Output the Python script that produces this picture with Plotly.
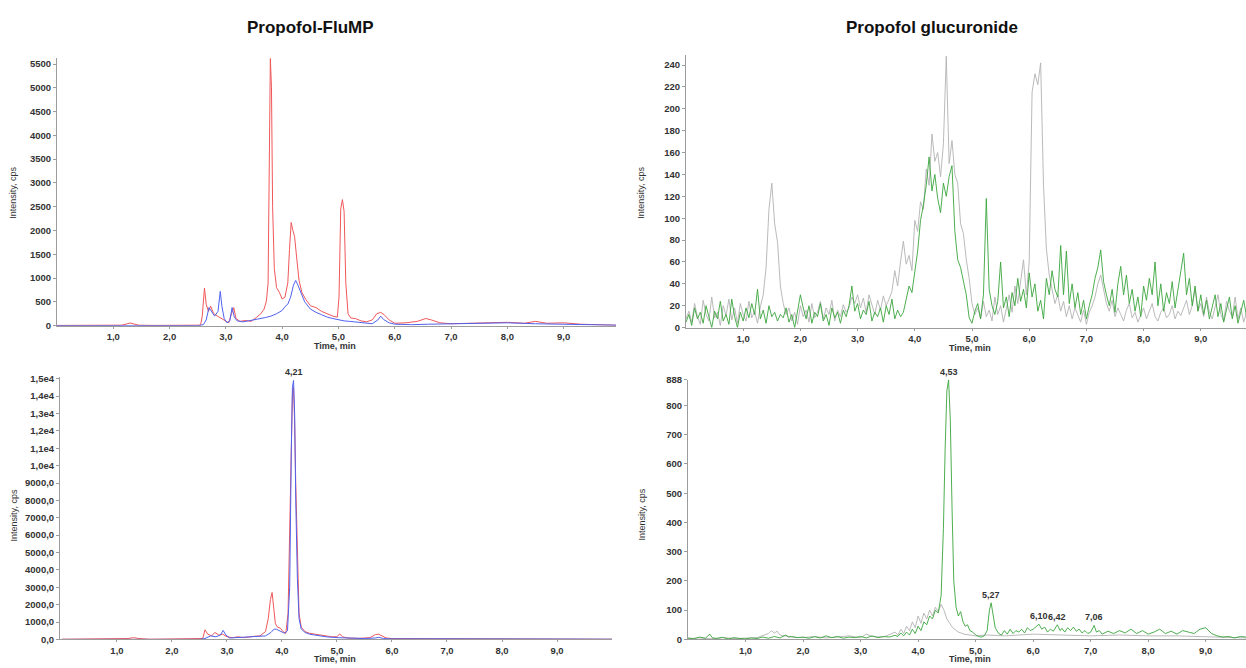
import plotly.graph_objects as go

W, H = 1246, 668

# ---------------- Panel A: Propofol-FluMP (top) ----------------
A_red_t = [0.0, 0.3, 0.6, 0.9, 1.15, 1.25, 1.3, 1.35, 1.45, 1.7, 2.0, 2.3, 2.55, 2.58, 2.62, 2.65, 2.69, 2.73,
           2.78, 2.85, 2.92, 3.0, 3.05, 3.1, 3.14, 3.18, 3.25, 3.35, 3.45, 3.55, 3.62, 3.68, 3.72, 3.75, 3.77,
           3.79, 3.81, 3.83, 3.86, 3.9, 3.95, 4.0, 4.05, 4.1, 4.13, 4.16, 4.19, 4.22, 4.26, 4.3, 4.35, 4.42,
           4.5, 4.6, 4.7, 4.8, 4.9, 4.98, 5.01, 5.04, 5.07, 5.1, 5.13, 5.17, 5.22, 5.3, 5.4, 5.5, 5.6, 5.68,
           5.75, 5.82, 5.9, 6.0, 6.2, 6.4, 6.55, 6.65, 6.8, 7.0, 7.3, 7.6, 8.0, 8.3, 8.5, 8.7, 9.0, 9.3, 9.6, 9.93]
A_red_y = [5, 10, 5, 8, 10, 40, 55, 40, 10, 5, 8, 5, 10, 200, 790, 450, 300, 410,
           260, 200, 150, 80, 60, 250, 380, 150, 90, 110, 90, 180, 250, 350, 520, 900, 3500,
           5620, 5000, 2500, 1200, 800, 700, 560, 600, 900, 1600, 2170, 2000, 1880, 1400, 950, 700, 550,
           420, 380, 300, 250, 200, 180, 600, 2450, 2650, 2400, 900, 250, 160, 150, 100, 80, 120, 250,
           280, 220, 120, 50, 60, 90, 150, 120, 60, 40, 50, 60, 70, 50, 90, 50, 60, 30, 15, 10]

A_blue_t = [0.0, 0.5, 1.0, 1.5, 2.0, 2.5, 2.6, 2.65, 2.7, 2.74, 2.8, 2.86, 2.9, 2.93, 2.97, 3.02, 3.07, 3.11,
            3.15, 3.2, 3.3, 3.4, 3.5, 3.6, 3.7, 3.8, 3.9, 4.0, 4.05, 4.1, 4.15, 4.2, 4.24, 4.28, 4.33, 4.4,
            4.5, 4.6, 4.7, 4.8, 4.9, 5.0, 5.1, 5.2, 5.3, 5.4, 5.5, 5.6, 5.7, 5.75, 5.8, 5.9, 6.0, 6.3, 6.6,
            7.0, 7.5, 8.0, 8.5, 9.0, 9.5, 9.93]
A_blue_y = [0, 0, 5, 0, 0, 0, 20, 120, 380, 300, 200, 300, 720, 400, 150, 60, 100, 380,
            180, 100, 80, 100, 120, 140, 170, 200, 250, 320, 400, 450, 600, 850, 950, 850, 700, 500,
            350, 280, 230, 180, 150, 120, 100, 90, 80, 60, 50, 40, 120, 200, 130, 60, 30, 20, 30,
            40, 50, 60, 40, 30, 20, 10]

# ---------------- Panel B: Propofol glucuronide (top) ----------------
B_t = [0.00, 0.05, 0.10, 0.15, 0.20, 0.25, 0.30, 0.35, 0.40, 0.45, 0.50, 0.55, 0.60, 0.65, 0.70, 0.75, 0.80, 0.85, 0.90, 0.95,
       1.00, 1.05, 1.10, 1.15, 1.20, 1.25, 1.30, 1.35, 1.40, 1.45, 1.50, 1.55, 1.60, 1.65, 1.70, 1.75, 1.80, 1.85, 1.90, 1.95,
       2.00, 2.05, 2.10, 2.15, 2.20, 2.25, 2.30, 2.35, 2.40, 2.45, 2.50, 2.55, 2.60, 2.65, 2.70, 2.75, 2.80, 2.85, 2.90, 2.95,
       3.00, 3.05, 3.10, 3.15, 3.20, 3.25, 3.30, 3.35, 3.40, 3.45, 3.50, 3.55, 3.60, 3.65, 3.70, 3.75, 3.80, 3.85, 3.90, 3.95,
       4.00, 4.05, 4.10, 4.15, 4.20, 4.25, 4.30, 4.35, 4.40, 4.45, 4.50, 4.55, 4.60, 4.65, 4.70, 4.75, 4.80, 4.85, 4.90, 4.95,
       5.00, 5.05, 5.10, 5.15, 5.20, 5.25, 5.30, 5.35, 5.40, 5.45, 5.50, 5.55, 5.60, 5.65, 5.70, 5.75, 5.80, 5.85, 5.90, 5.95,
       6.00, 6.05, 6.10, 6.15, 6.20, 6.25, 6.30, 6.35, 6.40, 6.45, 6.50, 6.55, 6.60, 6.65, 6.70, 6.75, 6.80, 6.85, 6.90, 6.95,
       7.00, 7.05, 7.10, 7.15, 7.20, 7.25, 7.30, 7.35, 7.40, 7.45, 7.50, 7.55, 7.60, 7.65, 7.70, 7.75, 7.80, 7.85, 7.90, 7.95,
       8.00, 8.05, 8.10, 8.15, 8.20, 8.25, 8.30, 8.35, 8.40, 8.45, 8.50, 8.55, 8.60, 8.65, 8.70, 8.75, 8.80, 8.85, 8.90, 8.95,
       9.00, 9.05, 9.10, 9.15, 9.20, 9.25, 9.30, 9.35, 9.40, 9.45, 9.50, 9.55, 9.60, 9.65, 9.70, 9.75, 9.80]
B_gray_y = [8, 15, 5, 22, 10, 3, 25, 12, 6, 28, 9, 14, 2, 20, 11, 26, 7, 18, 4, 22,
            12, 6, 24, 9, 15, 4, 19, 30, 55, 108, 132, 95, 78, 38, 22, 12, 18, 6, 14, 3,
            20, 10, 16, 5, 22, 9, 14, 24, 8, 18, 12, 25, 6, 16, 10, 21, 14, 18, 28, 22,
            30, 18, 27, 14, 30, 22, 12, 25, 16, 29, 20, 26, 33, 52, 38, 60, 79, 58, 66, 52,
            98, 88, 115, 108, 145, 130, 177, 152, 160, 138, 168, 248, 150, 171, 140, 132, 95, 86, 62, 45,
            22, 12, 18, 8, 24, 10, 16, 6, 28, 12, 20, 5, 18, 30, 14, 38, 22, 45, 62, 30,
            60, 215, 232, 222, 242, 130, 72, 48, 35, 22, 30, 15, 24, 10, 20, 8, 18, 12, 5, 16,
            3, 14, 20, 28, 40, 48, 35, 22, 15, 25, 10, 18, 12, 6, 16, 22, 9, 14, 5, 12,
            18, 8, 15, 22, 10, 6, 14, 18, 9, 12, 20, 8, 15, 11, 18, 25, 12, 20, 35, 15,
            22, 10, 28, 14, 8, 20, 30, 12, 6, 24, 15, 10, 28, 8, 18, 5, 14]
B_green_y = [5, 12, 2, 18, 8, 14, 4, 20, 10, 0, 15, 8, 24, 6, 12, 3, 26, 10, 0, 14,
             6, 18, 9, 22, 12, 35, 8, 16, 4, 20, 10, 14, 6, 12, 9, 18, 5, 12, 0, 15,
             30, 18, 8, 20, 4, 14, 10, 22, 6, 12, 2, 18, 9, 14, 4, 16, 10, 20, 38, 15,
             22, 8, 16, 12, 24, 6, 14, 10, 18, 5, 20, 12, 26, 8, 16, 10, 14, 26, 38, 32,
             52, 70, 98, 112, 130, 156, 125, 140, 118, 105, 132, 120, 138, 148, 88, 62, 55, 42, 30, 9,
             4, 15, 22, 8, 30, 118, 35, 20, 12, 24, 60, 18, 28, 10, 32, 20, 45, 24, 35, 18,
             50, 28, 40, 15, 25, 8, 45, 30, 52, 35, 28, 75, 30, 70, 22, 40, 18, 32, 12, 25,
             8, 20, 30, 45, 55, 71, 42, 30, 20, 35, 14, 40, 56, 30, 48, 22, 35, 15, 28, 10,
             38, 25, 45, 30, 60, 20, 40, 15, 32, 22, 42, 18, 35, 50, 68, 30, 45, 20, 38, 15,
             30, 12, 25, 8, 20, 30, 10, 22, 5, 18, 28, 8, 20, 4, 16, 25, 10]

# ---------------- Panel C: Propofol-FluMP (bottom) ----------------
C_red_t = [0.0, 0.5, 1.0, 1.2, 1.3, 1.4, 1.6, 2.0, 2.5, 2.56, 2.6, 2.65, 2.72, 2.78, 2.85, 2.92, 3.0, 3.1,
           3.2, 3.3, 3.5, 3.6, 3.7, 3.75, 3.79, 3.82, 3.85, 3.88, 3.92, 3.97, 4.02, 4.07, 4.11, 4.14, 4.17,
           4.19, 4.21, 4.23, 4.25, 4.28, 4.31, 4.35, 4.42, 4.5, 4.6, 4.7, 4.8, 4.9, 5.0, 5.05, 5.1, 5.2, 5.4,
           5.6, 5.7, 5.75, 5.82, 5.9, 6.0, 6.5, 7.0, 7.5, 8.0, 8.5, 9.0, 9.5, 10.0]
C_red_y = [10, 10, 20, 50, 100, 50, 10, 10, 10, 50, 550, 300, 200, 400, 250, 300, 150, 100,
           150, 100, 180, 200, 450, 1200, 2300, 2700, 1800, 900, 700, 650, 450, 350, 1500, 6000, 12500,
           14200, 14500, 12500, 9000, 4500, 1500, 700, 450, 350, 300, 250, 200, 150, 150, 320, 150, 80, 60,
           100, 280, 300, 200, 80, 50, 40, 30, 30, 50, 30, 20, 10, 10]
C_blue_t = [0.0, 1.0, 2.0, 2.5, 2.6, 2.7, 2.8, 2.88, 2.93, 2.98, 3.05, 3.2, 3.4, 3.6, 3.7, 3.8, 3.86, 3.9,
            3.95, 4.0, 4.05, 4.1, 4.14, 4.17, 4.19, 4.21, 4.23, 4.25, 4.28, 4.31, 4.35, 4.42, 4.5, 4.6,
            4.8, 5.0, 5.2, 5.5, 5.7, 5.75, 5.85, 6.0, 7.0, 8.0, 9.0, 10.0]
C_blue_y = [0, 0, 0, 0, 50, 200, 150, 250, 520, 250, 80, 100, 120, 150, 200, 400, 600, 580,
            500, 420, 350, 500, 3000, 11000, 14500, 14900, 13000, 8000, 3500, 1200, 600, 400, 300, 250,
            150, 100, 80, 50, 80, 120, 50, 30, 30, 40, 20, 10]
C_peak_labels = [4.21]

# ---------------- Panel D: Propofol glucuronide (bottom) ----------------
D_green_t = [0.0, 0.1, 0.2, 0.3, 0.38, 0.42, 0.5, 0.6, 0.7, 0.8, 0.9, 1.0, 1.1, 1.2, 1.3, 1.4, 1.5, 1.6,
             1.7, 1.75, 1.8, 1.9, 2.0, 2.1, 2.2, 2.3, 2.4, 2.5, 2.6, 2.7, 2.8, 2.9, 3.0, 3.1, 3.2, 3.3,
             3.4, 3.5, 3.6, 3.65, 3.7, 3.75, 3.8, 3.85, 3.9, 3.95, 4.0, 4.05, 4.1, 4.15, 4.2, 4.25, 4.3,
             4.35, 4.4, 4.44, 4.47, 4.5, 4.53, 4.56, 4.59, 4.62, 4.66, 4.7, 4.74, 4.78, 4.82, 4.86, 4.9,
             4.95, 5.0, 5.05, 5.1, 5.15, 5.2, 5.24, 5.27, 5.3, 5.34, 5.4, 5.45, 5.5, 5.55, 5.6, 5.65, 5.7,
             5.75, 5.8, 5.85, 5.9, 5.95, 6.0, 6.05, 6.1, 6.15, 6.2, 6.25, 6.3, 6.35, 6.42, 6.47, 6.5, 6.55,
             6.6, 6.65, 6.7, 6.75, 6.8, 6.85, 6.9, 6.95, 7.0, 7.06, 7.1, 7.15, 7.2, 7.3, 7.4, 7.5, 7.6, 7.7,
             7.8, 7.9, 8.0, 8.1, 8.2, 8.3, 8.4, 8.5, 8.6, 8.7, 8.8, 8.9, 9.0, 9.1, 9.2, 9.3, 9.4, 9.5, 9.6, 9.7]
D_green_y = [5, 2, 8, 4, 18, 6, 3, 7, 2, 6, 3, 2, 5, 3, 8, 4, 10, 5,
             15, 8, 10, 6, 8, 4, 9, 5, 12, 6, 10, 4, 8, 6, 10, 5, 12, 6,
             10, 8, 14, 10, 22, 12, 25, 15, 35, 20, 45, 30, 60, 50, 80, 70, 100,
             90, 150, 380, 650, 850, 888, 750, 450, 200, 110, 80, 95, 60, 45, 50, 30,
             25, 15, 10, 8, 12, 30, 100, 125, 90, 40, 20, 15, 30, 18, 35, 20, 30,
             25, 35, 22, 40, 30, 35, 45, 52, 35, 42, 25, 35, 28, 50, 30, 38, 25,
             40, 30, 42, 28, 35, 22, 30, 20, 25, 48, 25, 30, 18, 28, 20, 30, 22, 35,
             20, 30, 18, 25, 35, 20, 28, 18, 30, 25, 20, 35, 40, 20, 12, 8, 10, 5, 10, 8]
D_gray_t = [0.0, 0.2, 0.4, 0.6, 0.8, 1.0, 1.2, 1.4, 1.45, 1.5, 1.55, 1.6, 1.7, 1.8, 2.0, 2.2, 2.4, 2.6,
            2.8, 3.0, 3.1, 3.2, 3.4, 3.6, 3.65, 3.7, 3.75, 3.8, 3.85, 3.9, 3.95, 4.0, 4.05, 4.1, 4.15,
            4.2, 4.25, 4.3, 4.35, 4.4, 4.45, 4.5, 4.6, 4.7, 4.8, 5.0, 5.2, 5.5, 6.0, 6.5, 7.0,
            7.5, 8.0, 8.5, 9.0, 9.5, 9.7]
D_gray_y = [3, 5, 2, 6, 3, 4, 6, 20, 30, 22, 28, 15, 12, 8, 6, 10, 5, 8,
            12, 6, 18, 10, 8, 25, 15, 35, 20, 45, 30, 60, 40, 80, 55, 90, 70,
            100, 80, 110, 95, 120, 100, 70, 40, 25, 18, 12, 15, 12, 18, 15, 12,
            15, 12, 12, 10, 6, 5]
D_peak_labels = [4.53, 5.27, 6.10, 6.42, 7.06]

# ---------------- Tick labels ----------------
x_tickvals = [1, 2, 3, 4, 5, 6, 7, 8, 9]
x_ticktext = ["1,0", "2,0", "3,0", "4,0", "5,0", "6,0", "7,0", "8,0", "9,0"]
A_yticks = [0, 500, 1000, 1500, 2000, 2500, 3000, 3500, 4000, 4500, 5000, 5500]
A_ytext = ["0", "500", "1000", "1500", "2000", "2500", "3000", "3500", "4000", "4500", "5000", "5500"]
B_yticks = [0, 20, 40, 60, 80, 100, 120, 140, 160, 180, 200, 220, 240]
B_ytext = ["0", "20", "40", "60", "80", "100", "120", "140", "160", "180", "200", "220", "240"]
C_yticks = [0, 1000, 2000, 3000, 4000, 5000, 6000, 7000, 8000, 9000, 10000, 11000, 12000, 13000, 14000, 15000]
C_ytext = ["0,0", "1000,0", "2000,0", "3000,0", "4000,0", "5000,0", "6000,0", "7000,0", "8000,0", "9000,0",
           "1,0e4", "1,1e4", "1,2e4", "1,3e4", "1,4e4", "1,5e4"]
D_yticks = [0, 100, 200, 300, 400, 500, 600, 700, 800, 888]
D_ytext = ["0", "100", "200", "300", "400", "500", "600", "700", "800", "888"]

titles = ["Propofol-FluMP", "Propofol glucuronide"]

RED = "#f0575a"
BLUE = "#4f62ee"
GREEN = "#3aa53c"
GRAY = "#b2b2b2"

# ---------------- Layout geometry (pixels) ----------------
panels = {
    "A": dict(x0=57, x1=616, ytop=53, ybot=325, xr=[0, 9.93], yr=[0, 5624],
              yt=A_yticks, ytt=A_ytext, n=1),
    "B": dict(x0=686, x1=1246, ytop=50, ybot=327, xr=[0, 9.79], yr=[0, 249],
              yt=B_yticks, ytt=B_ytext, n=2),
    "C": dict(x0=60, x1=612, ytop=377, ybot=644, xr=[-0.036, 10.0], yr=[0, 15112],
              yt=C_yticks, ytt=C_ytext, n=3),
    "D": dict(x0=688, x1=1246, ytop=380, ybot=644, xr=[0, 9.70], yr=[0, 888],
              yt=D_yticks, ytt=D_ytext, n=4),
}

fig = go.Figure()
tickfont = dict(size=9.5, color="#333333", family="Liberation Sans", weight="bold")
axcol = "#9c9c9c"
layout = dict(width=W, height=H, margin=dict(l=0, r=0, t=0, b=0),
              paper_bgcolor="white", plot_bgcolor="white", showlegend=False)

for key, p in panels.items():
    n = p["n"]
    xs = "" if n == 1 else str(n)
    layout["xaxis" + xs] = dict(domain=[p["x0"] / W, p["x1"] / W], range=p["xr"], anchor="y" + xs,
                                showgrid=False, zeroline=False, showline=True, linecolor=axcol, linewidth=1,
                                ticks="outside", ticklen=2, tickcolor=axcol, tickvals=x_tickvals,
                                ticktext=x_ticktext, tickfont=tickfont, fixedrange=True)
    layout["yaxis" + xs] = dict(domain=[1 - p["ybot"] / H, 1 - p["ytop"] / H], range=p["yr"], anchor="x" + xs,
                                showgrid=False, zeroline=False, showline=True, linecolor=axcol, linewidth=1,
                                ticks="outside", ticklen=3, tickcolor=axcol, tickvals=p["yt"],
                                ticktext=p["ytt"], tickfont=tickfont, fixedrange=True)

fig.update_layout(**layout)

def add(t, y, color, n, w=1.0):
    xs = "" if n == 1 else str(n)
    fig.add_trace(go.Scatter(x=t, y=y, mode="lines", line=dict(color=color, width=w),
                             xaxis="x" + xs, yaxis="y" + xs, hoverinfo="skip"))

add(A_red_t, A_red_y, RED, 1)
add(A_blue_t, A_blue_y, BLUE, 1)
add(B_t, B_gray_y, GRAY, 2, 0.9)
add(B_t, B_green_y, GREEN, 2, 0.9)
add(C_red_t, C_red_y, RED, 3)
add(C_blue_t, C_blue_y, BLUE, 3)
add(D_gray_t, D_gray_y, GRAY, 4, 0.9)
add(D_green_t, D_green_y, GREEN, 4, 0.9)

annots = []
# Titles
for txt, xc in [(titles[0], 310), (titles[1], 932)]:
    annots.append(dict(text="<b>" + txt + "</b>", x=xc / W, y=1 - 22 / H, xref="paper", yref="paper",
                       xanchor="center", yanchor="middle", showarrow=False,
                       font=dict(size=17, color="#111111", family="Liberation Sans")))

labfont = dict(size=9, color="#333333", family="Liberation Sans")
# Axis titles
for (xc, yc) in [(335, 346), (970, 348), (335, 664), (970, 664)]:
    annots.append(dict(text="<b>Time, min</b>", x=xc / W, y=1 - yc / H, xref="paper", yref="paper",
                       xanchor="center", yanchor="middle", showarrow=False, font=labfont, borderpad=0))
for (xc, yc) in [(13, 190), (641, 190), (14, 518), (642, 517)]:
    annots.append(dict(text="Intensity, cps", x=xc / W, y=1 - yc / H, xref="paper", yref="paper",
                       xanchor="center", yanchor="middle", showarrow=False, textangle=-90, font=labfont))

def nearest(ts, ys, t):
    i = min(range(len(ts)), key=lambda k: abs(ts[k] - t))
    return ys[i]

pkfont = dict(size=9, color="#333333", family="Liberation Sans", weight="bold")
for t in C_peak_labels:
    yv = max(nearest(C_red_t, C_red_y, t), nearest(C_blue_t, C_blue_y, t))
    annots.append(dict(text=("%.2f" % t).replace(".", ","), x=t, y=yv, xref="x3", yref="y3", showarrow=False,
                       xanchor="center", yanchor="bottom", yshift=1, font=pkfont))
for t in D_peak_labels:
    yv = nearest(D_green_t, D_green_y, t)
    annots.append(dict(text=("%.2f" % t).replace(".", ","), x=t, y=yv, xref="x4", yref="y4", showarrow=False,
                       xanchor="center", yanchor="bottom", yshift=1, font=pkfont))

fig.update_layout(annotations=annots)
fig.write_html("out.html")
